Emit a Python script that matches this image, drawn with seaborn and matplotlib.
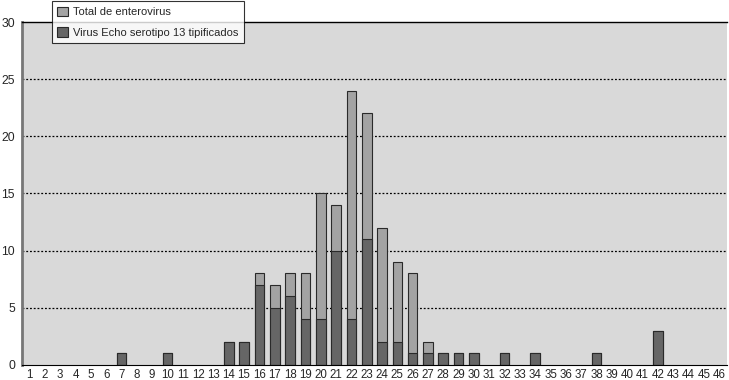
import pandas as pd
import matplotlib.pyplot as plt
import seaborn as sns
from matplotlib.patches import Patch

weeks = list(range(1, 47))
echo_weeks = [7, 10, 14, 15, 16, 17, 18, 19, 20, 21, 22, 23, 24, 25, 26, 27, 28, 29, 30, 32, 34, 38, 42]
echo_counts = [1, 1, 2, 2, 7, 5, 6, 4, 4, 10, 4, 11, 2, 2, 1, 1, 1, 1, 1, 1, 1, 1, 3]
total_weeks = [16, 17, 18, 19, 20, 21, 22, 23, 24, 25, 26, 27]
total_counts = [8, 7, 8, 8, 15, 14, 24, 22, 12, 9, 8, 2]

echo = dict(zip(echo_weeks, echo_counts))
total = dict(echo)
total.update(dict(zip(total_weeks, total_counts)))

data = pd.DataFrame({
    'semana': [str(w) for w in weeks],
    'total': [total.get(w, 0) for w in weeks],
    'echo': [echo.get(w, 0) for w in weeks],
})

light = '#a3a3a3'
dark = '#666666'
edge = '#2a2a2a'

sns.set_style('white')
plt.rcParams['font.family'] = ['Liberation Sans', 'DejaVu Sans']

fig = plt.figure(figsize=(7.29, 3.80), dpi=100)
ax = fig.add_axes([0.030, 0.040, 0.967, 0.902])
ax.set_facecolor('#d9d9d9')

order = data['semana'].tolist()
sns.barplot(data=data, x='semana', y='total', order=order, color=light,
            width=0.63, edgecolor=edge, linewidth=0.8, saturation=1, ax=ax)
sns.barplot(data=data, x='semana', y='echo', order=order, color=dark,
            width=0.63, edgecolor=edge, linewidth=0.8, saturation=1, ax=ax)
# hide zero-height bars outlines
for p in ax.patches:
    if p.get_height() == 0:
        p.set_visible(False)

ax.set_ylim(0, 30)
ax.set_xlim(-0.5, 45.5)
ax.set_yticks(range(0, 31, 5))
ax.set_xlabel('')
ax.set_ylabel('')
for v in range(5, 30, 5):
    ax.axhline(v, color='black', linestyle=(0, (1.5, 1.5)), linewidth=0.9, zorder=0.5)
ax.set_axisbelow(True)

ax.spines['top'].set_visible(True)
ax.spines['top'].set_color('black')
ax.spines['top'].set_linewidth(1.0)
ax.spines['right'].set_visible(False)
ax.spines['left'].set_color('#777777')
ax.spines['left'].set_linewidth(2)
ax.spines['bottom'].set_color('black')
ax.spines['bottom'].set_linewidth(0.8)

ax.tick_params(axis='y', length=4, width=0.8, color='black', labelsize=8.8, pad=1)
ax.tick_params(axis='x', which='major', length=0, labelsize=8.3, pad=3)
ax.set_xticks([i + 0.5 for i in range(45)], minor=True)
ax.tick_params(axis='x', which='minor', length=3, width=0.8, color='black')

handles = [Patch(facecolor=light, edgecolor=edge, linewidth=0.8, label='Total de enterovirus'),
           Patch(facecolor=dark, edgecolor=edge, linewidth=0.8, label='Virus Echo serotipo 13 tipificados')]
leg = fig.legend(handles=handles, loc='upper left', bbox_to_anchor=(0.071, 0.997),
                 fontsize=8, frameon=True, fancybox=False, edgecolor='black',
                 handlelength=0.95, handleheight=0.95, handletextpad=0.45,
                 borderpad=0.5, labelspacing=0.9, borderaxespad=0)
leg.get_frame().set_linewidth(0.8)
leg.set_zorder(10)

fig.savefig('out.png', dpi=100)
